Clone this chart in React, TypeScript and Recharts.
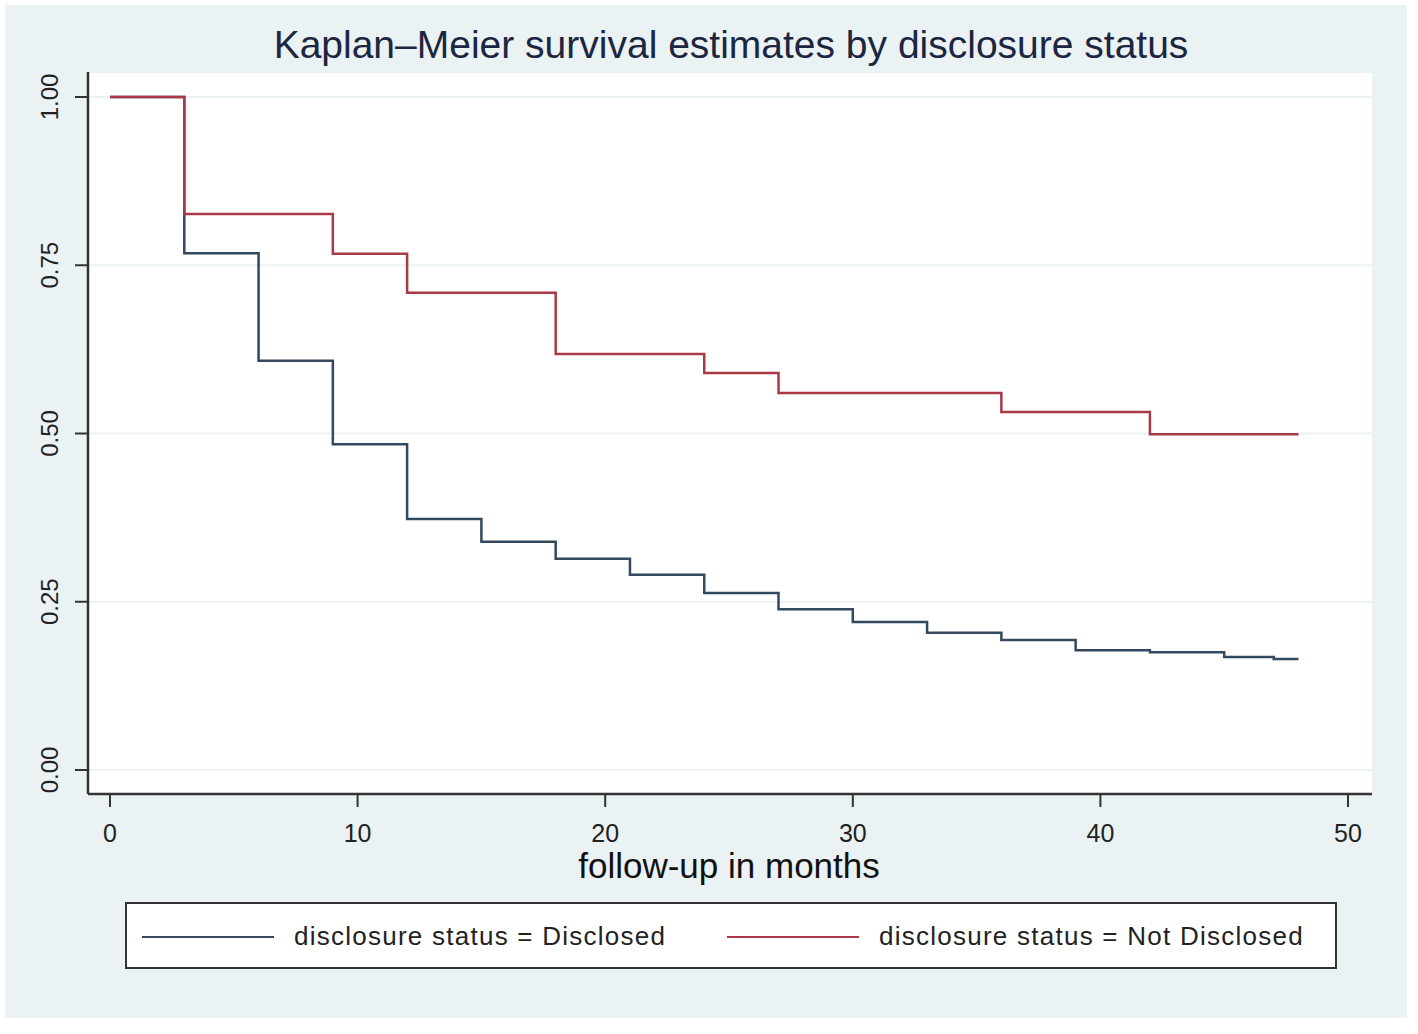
import { LineChart, Line, CartesianGrid, XAxis, YAxis } from "recharts";

// follow-up time (months) at each step, and survival estimate from that time on
const disclosedMonths = [0, 3, 6, 9, 12, 15, 18, 21, 24, 27, 30, 33, 36, 39, 42, 45, 47, 48];
const disclosedSurv = [1, 0.768, 0.608, 0.484, 0.373, 0.339, 0.314, 0.29, 0.263, 0.239, 0.22, 0.204, 0.193, 0.178, 0.175, 0.168, 0.165, 0.165];

const notDisclosedMonths = [0, 3, 9, 12, 18, 24, 27, 36, 42, 48];
const notDisclosedSurv = [1, 0.826, 0.767, 0.709, 0.618, 0.59, 0.56, 0.532, 0.499, 0.499];

const xTicks = [0, 10, 20, 30, 40, 50];
const yTicks = [0, 0.25, 0.5, 0.75, 1];
const yTickLabels = ["0.00", "0.25", "0.50", "0.75", "1.00"];

const title = "Kaplan–Meier survival estimates by disclosure status";
const xTitle = "follow-up in months";

const series = [
  { name: "disclosure status = Disclosed", color: "#34495f", months: disclosedMonths, surv: disclosedSurv },
  { name: "disclosure status = Not Disclosed", color: "#a83a48", months: notDisclosedMonths, surv: notDisclosedSurv },
];

const W = 1418;
const H = 1034;
const FONT = '"Liberation Sans", Arial, sans-serif';

function YTick(props: any) {
  const { x, y, payload } = props;
  const i = yTicks.indexOf(payload.value);
  const cx = x - 24;
  return (
    <text x={cx} y={y} transform={`rotate(-90 ${cx} ${y})`} textAnchor="middle" dominantBaseline="central"
      fontSize={24} fill="#222" fontFamily={FONT}>
      {i >= 0 ? yTickLabels[i] : payload.value}
    </text>
  );
}

function XTick(props: any) {
  const { x, y, payload } = props;
  return (
    <text x={x} y={y + 33} textAnchor="middle" fontSize={25} fill="#222" fontFamily={FONT}>
      {payload.value}
    </text>
  );
}

export default function App() {
  const lines = series.map((s) => ({
    ...s,
    data: s.months.map((t, i) => ({ t, s: s.surv[i] })),
  }));
  return (
    <div style={{ position: "absolute", left: 0, top: 0, width: W, height: H, background: "#fff", fontFamily: FONT }}>
      <div style={{ position: "absolute", left: 5, top: 5, width: 1402, height: 1013, background: "#EAF2F3" }} />
      <div style={{ position: "absolute", left: 0, width: 1462, top: 24, textAlign: "center", fontSize: 39, color: "#1c2640", lineHeight: "42px" }}>
        {title}
      </div>
      <div style={{ position: "absolute", left: 0, top: 0 }}>
        <LineChart width={W} height={H} margin={{ top: 72, right: 46, bottom: 200, left: 48 }}>
          <CartesianGrid vertical={false} stroke="#EAF2F3" strokeWidth={2} fill="#fff" />
          <XAxis type="number" dataKey="t" domain={[0, 50]} ticks={xTicks} padding={{ left: 22, right: 24 }}
            height={40} tickSize={13} tick={<XTick />} axisLine={{ stroke: "#333", strokeWidth: 2.5 }}
            tickLine={{ stroke: "#333", strokeWidth: 2 }} allowDuplicatedCategory={false} />
          <YAxis type="number" domain={[0, 1]} ticks={yTicks} padding={{ top: 25, bottom: 24 }}
            width={40} tickSize={13} tick={<YTick />} axisLine={{ stroke: "#333", strokeWidth: 2.5 }}
            tickLine={{ stroke: "#333", strokeWidth: 2 }} />
          {lines.map((s) => (
            <Line key={s.name} data={s.data} dataKey="s" type="stepAfter" stroke={s.color} strokeWidth={2.5}
              dot={false} activeDot={false} isAnimationActive={false} />
          ))}
        </LineChart>
      </div>
      <div style={{ position: "absolute", left: 0, width: 1458, top: 851, textAlign: "center", fontSize: 35, color: "#111", lineHeight: "30px" }}>
        {xTitle}
      </div>
      <div style={{ position: "absolute", left: 125, top: 902, width: 1208, height: 63, background: "#fff", border: "2px solid #333" }}>
        {lines.map((s, i) => (
          <div key={s.name} style={{ position: "absolute", left: i === 0 ? 15 : 600, top: 1, height: 63, display: "flex", alignItems: "center" }}>
            <div style={{ width: 132, height: 0, borderTop: `2.5px solid ${s.color}` }} />
            <span style={{ marginLeft: 20, fontSize: 26, color: "#222", letterSpacing: 1.25 }}>{s.name}</span>
          </div>
        ))}
      </div>
    </div>
  );
}
